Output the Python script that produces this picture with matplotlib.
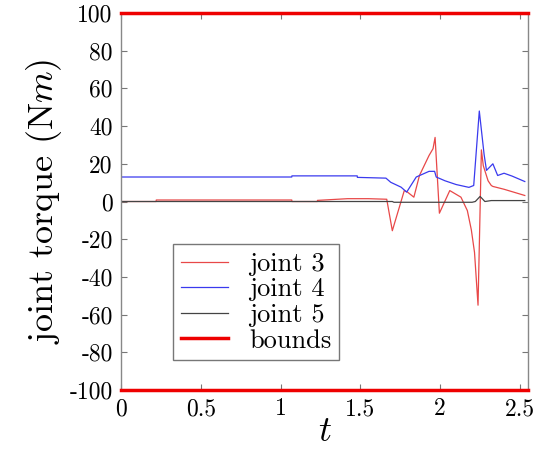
import matplotlib
matplotlib.use("Agg")
import matplotlib.pyplot as plt

# ---- data ----
t_j3 = [0, 0.22, 0.221, 1.07, 1.071, 1.23, 1.231, 1.42, 1.55, 1.665, 1.70, 1.775, 1.795,
        1.835, 1.87, 1.93, 1.955, 1.968, 1.995, 2.06, 2.13, 2.17, 2.195, 2.215, 2.237,
        2.258, 2.27, 2.30, 2.32, 2.33, 2.40, 2.53]
v_j3 = [0, 0, 0.8, 0.8, 0, 0, 0.6, 1.5, 1.5, 1.2, -15.5, 5.8, 5, 2.3, 13.8, 24.4, 28, 34,
        -6.2, 5.8, 2.3, -4.8, -15, -27, -55, 27.4, 19, 11, 8.5, 8, 6.5, 3.2]

t_j4 = [0, 1.07, 1.071, 1.48, 1.481, 1.66, 1.69, 1.755, 1.79, 1.85, 1.93, 1.965, 1.975,
        2.03, 2.10, 2.18, 2.21, 2.245, 2.275, 2.29, 2.33, 2.36, 2.40, 2.45, 2.53]
v_j4 = [13, 13, 13.6, 13.6, 12.8, 12.4, 10.2, 7.6, 5, 13, 16, 16, 13, 11, 9, 7.5, 8.5,
        48, 25, 16.5, 20, 13.8, 15, 13.5, 10.6]

t_j5 = [0, 1.70, 1.71, 2.20, 2.22, 2.25, 2.28, 2.32, 2.53]
v_j5 = [0, 0, -0.4, -0.4, 0, 2.7, 0, 0.5, 0.5]

bound_t = [0, 2.55]
bound_hi = [100, 100]
bound_lo = [-100, -100]

xticks = [0, 0.5, 1, 1.5, 2, 2.5]
xticklabels = ["0", "0.5", "1", "1.5", "2", "2.5"]
yticks = [-100, -80, -60, -40, -20, 0, 20, 40, 60, 80, 100]
yticklabels = ["-100", "-80", "-60", "-40", "-20", "0", "20", "40", "60", "80", "100"]

plt.rcParams['font.family'] = ['cmr10', 'DejaVu Serif']
plt.rcParams['mathtext.fontset'] = 'cm'
plt.rcParams['axes.formatter.use_mathtext'] = True

fig = plt.figure(figsize=(5.46, 4.5), dpi=100)
ax = fig.add_axes([0.2216, 0.1333, 0.7454, 0.8378])

ax.plot(t_j3, v_j3, color='#e84848', lw=0.9, label='joint 3')
ax.plot(t_j4, v_j4, color='#3a3aee', lw=0.9, label='joint 4')
ax.plot(t_j5, v_j5, color='#444444', lw=0.9, label='joint 5')
ax.plot(bound_t, bound_hi, color='#ee0000', lw=2.5, label='bounds', clip_on=False, zorder=5)
ax.plot(bound_t, bound_lo, color='#ee0000', lw=2.5, clip_on=False, zorder=5)

ax.set_xlim(0, 2.55)
ax.set_ylim(-100, 100)
ax.set_xticks(xticks)
ax.set_xticklabels(xticklabels)
ax.set_yticks(yticks)
ax.set_yticklabels(yticklabels)
ax.tick_params(direction='in', top=True, right=True, labelsize=17, length=4,
               color='#777777', pad=6)
for s in ax.spines.values():
    s.set_color('#888888')
    s.set_linewidth(1.0)

ax.set_ylabel('joint torque (N$m$)', fontsize=26, labelpad=4)
ax.set_xlabel('$t$', fontsize=26, labelpad=-3)

leg = ax.legend(loc='upper left', bbox_to_anchor=(0.127, 0.387), borderaxespad=0,
                fontsize=19, frameon=True, fancybox=False, handlelength=1.8,
                handletextpad=0.8, labelspacing=0.07, borderpad=0.3,
                markerfirst=True)
leg.get_frame().set_edgecolor('#555555')
leg.get_frame().set_linewidth(1.0)

fig.savefig('out.png', dpi=100)
